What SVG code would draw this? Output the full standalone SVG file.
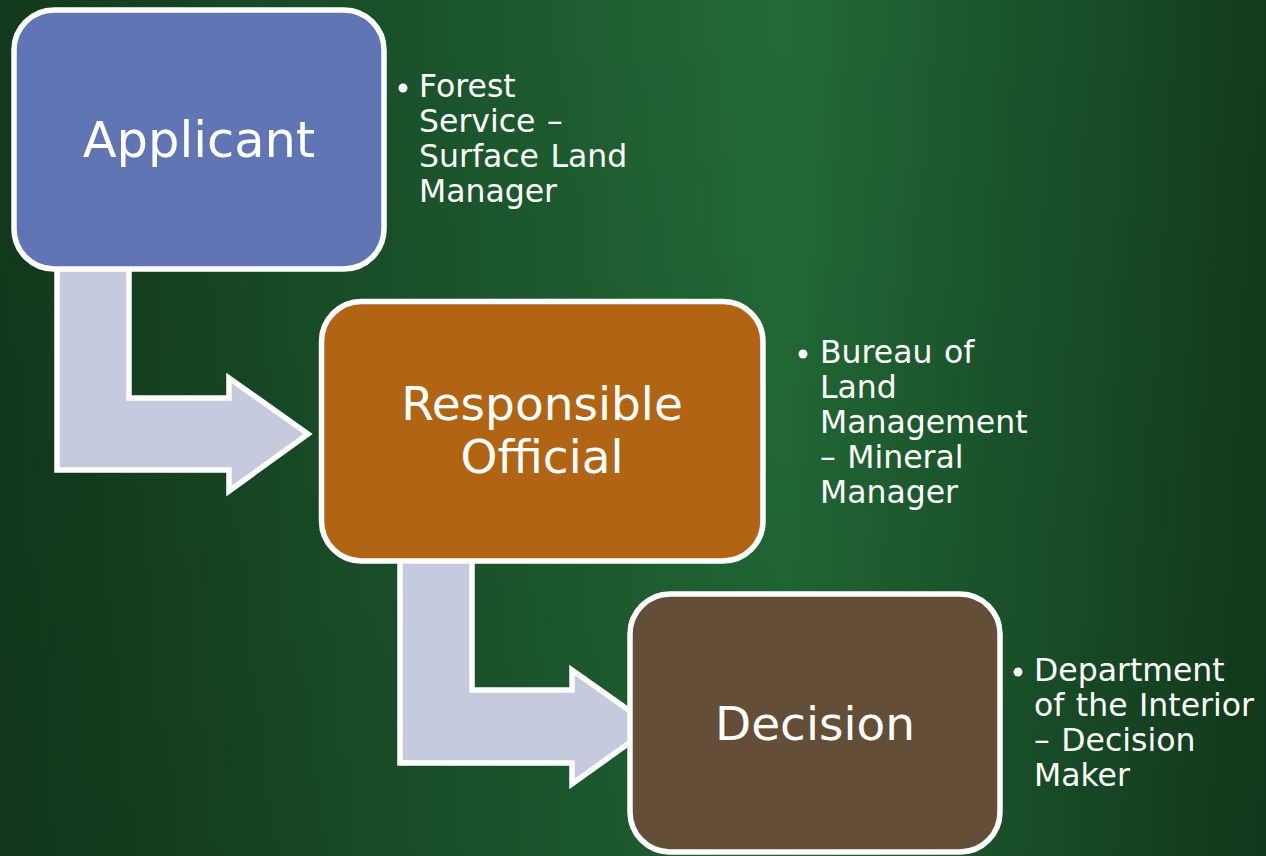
<svg xmlns="http://www.w3.org/2000/svg" width="1266" height="856" viewBox="0 0 1266 856">
<style>
.box{stroke:#fff;stroke-width:5.5}
.arrow{fill:#c5cadf;stroke:#fff;stroke-width:5.5;stroke-linejoin:miter}
.title{font-family:"DejaVu Sans",Verdana,sans-serif;fill:#fff;text-anchor:middle}
.note{font-family:"DejaVu Sans",Verdana,sans-serif;fill:#fff;font-size:31.5px;word-spacing:1.5px}
.dot{fill:#fff}
</style>
<defs>
<linearGradient id="bg" x1="0" y1="0" x2="1" y2="0">
<stop offset="0" stop-color="#12391d"/>
<stop offset="0.62" stop-color="#226a36"/>
<stop offset="1" stop-color="#123c1e"/>
</linearGradient>
<linearGradient id="shade" x1="0" y1="0" x2="0" y2="1">
<stop offset="0" stop-color="#000" stop-opacity="0"/>
<stop offset="1" stop-color="#000" stop-opacity="0.08"/>
</linearGradient>
</defs>
<rect width="1266" height="856" fill="url(#bg)"/>
<rect width="1266" height="856" fill="url(#shade)"/>
<g id="connectors">
<path class="arrow" d="M57,262 L129,262 L129,398 L229,398 L229,378 L308,434 L229,491 L229,470 L57,470 Z"/>
<path class="arrow" d="M400,552 L472,552 L472,690 L572,690 L572,670 L652,726.5 L572,784 L572,763 L400,763 Z"/>
</g>
<g id="applicant">
<rect class="box" x="14" y="10" width="370" height="259" rx="40" fill="#6076b4"/>
<text class="title" x="199" y="157" font-size="49.5">Applicant</text>
</g>
<g id="applicant-note">
<circle class="dot" cx="403" cy="88" r="4.5"/>
<text class="note" x="419" y="97">Forest</text>
<text class="note" x="419" y="132">Service –</text>
<text class="note" x="419" y="167">Surface Land</text>
<text class="note" x="419" y="202">Manager</text>
</g>
<g id="responsible-official">
<rect class="box" x="321.5" y="301.5" width="441.5" height="259.5" rx="40" fill="#b26415"/>
<text class="title" x="542" y="420" font-size="47">Responsible</text>
<text class="title" x="542" y="473" font-size="47">Official</text>
</g>
<g id="responsible-note">
<circle class="dot" cx="803" cy="354" r="4.5"/>
<text class="note" x="820" y="363">Bureau of</text>
<text class="note" x="820" y="398">Land</text>
<text class="note" x="820" y="433">Management</text>
<text class="note" x="820" y="468">– Mineral</text>
<text class="note" x="820" y="503">Manager</text>
</g>
<g id="decision">
<rect class="box" x="630" y="594" width="370" height="258" rx="40" fill="#644e37"/>
<text class="title" x="815" y="740" font-size="47">Decision</text>
</g>
<g id="decision-note">
<circle class="dot" cx="1018" cy="672" r="4.5"/>
<text class="note" x="1034" y="681">Department</text>
<text class="note" x="1034" y="716">of the Interior</text>
<text class="note" x="1034" y="751">– Decision</text>
<text class="note" x="1034" y="786">Maker</text>
</g>
</svg>
